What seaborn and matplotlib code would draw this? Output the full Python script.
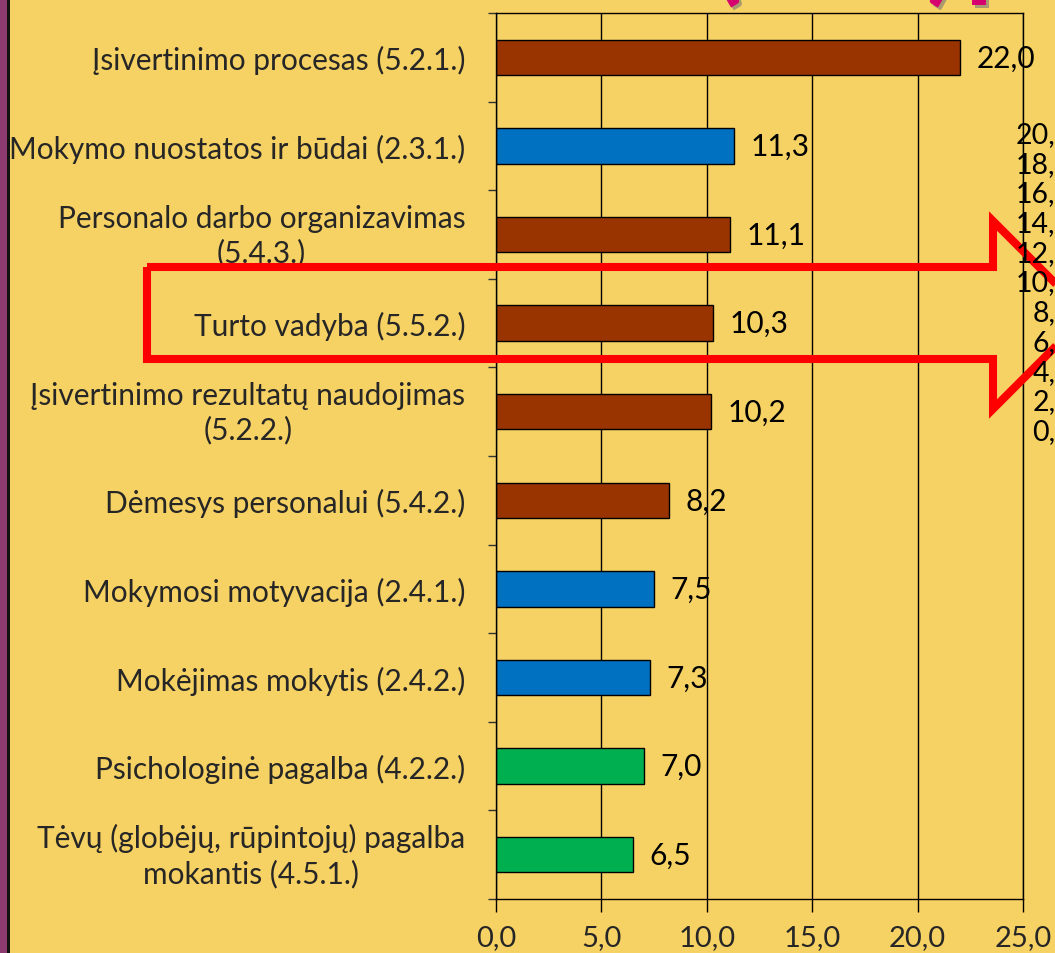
import matplotlib
matplotlib.use("Agg")

import matplotlib.pyplot as plt
import matplotlib.patches as mpatches
import matplotlib.patheffects as pe
import pandas as pd
import seaborn as sns
from matplotlib.ticker import FixedLocator, FuncFormatter

# --- data ---------------------------------------------------------------
categories = [
    "Įsivertinimo procesas (5.2.1.)",
    "Mokymo nuostatos ir būdai (2.3.1.)",
    "Personalo darbo organizavimas\n(5.4.3.)",
    "Turto vadyba (5.5.2.)",
    "Įsivertinimo rezultatų naudojimas\n(5.2.2.)",
    "Dėmesys personalui (5.4.2.)",
    "Mokymosi motyvacija (2.4.1.)",
    "Mokėjimas mokytis (2.4.2.)",
    "Psichologinė pagalba (4.2.2.)",
    "Tėvų (globėjų, rūpintojų) pagalba\nmokantis (4.5.1.)",
]
values = [22.0, 11.3, 11.1, 10.3, 10.2, 8.2, 7.5, 7.3, 7.0, 6.5]
groups = ["5", "2", "5", "5", "5", "5", "2", "2", "4", "4"]
group_colors = {"5": "#993300", "2": "#0070C0", "4": "#00B050"}
x_ticks = [0, 5, 10, 15, 20, 25]
# scale labels of a second chart peeking in on the right edge
side_labels = ["20,0", "18,0", "16,0", "14,0", "12,0", "10,0",
               "8,0", "6,0", "4,0", "2,0", "0,0"]

BG = "#F6D163"
W, H = 1055, 954
FS = 21.5


def comma(v, _pos=None):
    return f"{v:.1f}".replace(".", ",")


sns.set_theme(style="white")
plt.rcParams["font.family"] = ["Lato", "DejaVu Sans"]

df = pd.DataFrame({"category": categories, "value": values, "group": groups})

fig = plt.figure(figsize=(W / 100, H / 100), dpi=100, facecolor=BG)
ax = fig.add_axes([496 / W, 1 - 900 / H, (1023 - 496) / W, (900 - 14) / H])
ax.set_facecolor(BG)

sns.barplot(
    data=df, y="category", x="value", hue="category",
    palette=[group_colors[g] for g in groups], legend=False,
    orient="h", width=0.4, edgecolor="black", linewidth=1.0,
    saturation=1, ax=ax,
)

ax.set_xlim(0, 25)
ax.set_xticks(x_ticks)
ax.xaxis.set_major_formatter(FuncFormatter(comma))
ax.grid(axis="x", color="black", linewidth=1.0)
ax.grid(axis="y", visible=False)
ax.set_axisbelow(True)
ax.set_xlabel("")
ax.set_ylabel("")

# category ticks sit between the bars, as in the original chart
ax.yaxis.set_minor_locator(FixedLocator([i - 0.5 for i in range(len(categories) + 1)]))
ax.tick_params(axis="y", which="major", length=0, pad=22, labelsize=FS)
ax.tick_params(axis="y", which="minor", length=6, width=1, color="#333333", left=True)
ax.tick_params(axis="x", which="major", direction="out", length=9, width=1,
               color="black", bottom=True, pad=9, labelsize=21)
for lbl in ax.get_yticklabels():
    lbl.set_multialignment("center")
    lbl.set_linespacing(1.25)
    if "\n" in lbl.get_text():
        # two-line labels sit slightly higher in the original
        lbl.set_transform(lbl.get_transform()
                          + matplotlib.transforms.ScaledTranslation(0, 5 / 100, fig.dpi_scale_trans))

for side in ["left", "bottom", "top", "right"]:
    ax.spines[side].set_color("black")
    ax.spines[side].set_linewidth(1.0)

for cont in ax.containers:
    ax.bar_label(cont, labels=[comma(v) for v in cont.datavalues],
                 padding=12, fontsize=21.5, color="black")

# slide decorations: purple left strip
fig.patches.append(mpatches.Rectangle((0, 0), 7 / W, 1, transform=fig.transFigure,
                                      facecolor="#8C3A70", edgecolor="none"))
fig.patches.append(mpatches.Rectangle((7 / W, 0), 2.5 / W, 1, transform=fig.transFigure,
                                      facecolor="#111111", edgecolor="none"))

# red outlined arrow highlighting "Turto vadyba"
arrow_px = [(147, 268), (993, 268), (993, 222), (1087, 316),
            (993, 410), (993, 360), (147, 360)]
arrow = mpatches.Polygon([(x / W, 1 - y / H) for x, y in arrow_px], closed=True,
                         transform=fig.transFigure, fill=False,
                         edgecolor="#FF0000", linewidth=5.8, joinstyle="miter",
                         zorder=5)
fig.patches.append(arrow)

# scale of the neighbouring chart, cut off by the crop
for i, s in enumerate(side_labels):
    fig.text(1072 / W, 1 - (135 + i * 29.7) / H, s, ha="right", va="center",
             fontsize=20.5, color="black", zorder=6)

# tails of the cut-off magenta title
shadow = [pe.withSimplePatchShadow(offset=(2, -2), shadow_rgbFace="#777777", alpha=0.6)]
for ch, xp, yp in [("(", 727, -9), (")", 942, -9), ("l", 979, 6)]:
    fig.text(xp / W, 1 - yp / H, ch, ha="center", va="baseline", fontsize=80,
             fontweight="bold", color="#D6006F", zorder=6, path_effects=shadow)

fig.savefig("out.png", dpi=100, facecolor=BG)
